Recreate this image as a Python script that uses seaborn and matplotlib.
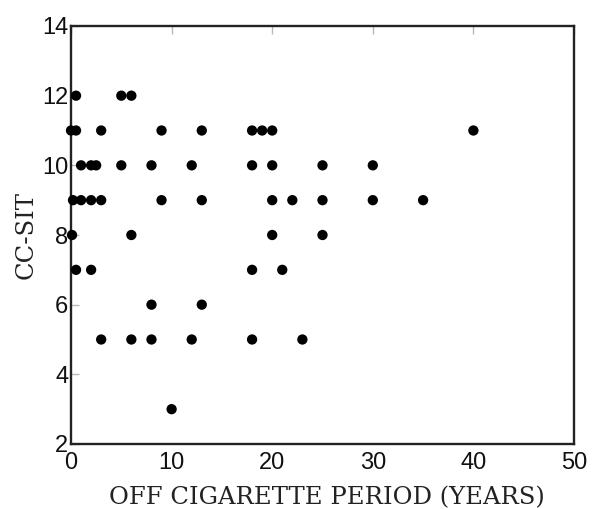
import matplotlib
matplotlib.use("Agg")
import matplotlib.pyplot as plt
import seaborn as sns
import pandas as pd

# Years off cigarettes and the CC-SIT score of each subject
off_years = [
    0.5, 5, 6,
    0.0, 0.5, 3, 9, 13, 18, 19, 20, 40,
    1, 2, 2.5, 5, 8, 12, 18, 20, 25, 30,
    0.2, 1, 2, 3, 9, 13, 20, 22, 25, 30, 35,
    0.1, 6, 20, 25,
    0.5, 2, 18, 21,
    8, 13,
    3, 6, 8, 12, 18, 23,
    10,
]
cc_sit = [
    12, 12, 12,
    11, 11, 11, 11, 11, 11, 11, 11, 11,
    10, 10, 10, 10, 10, 10, 10, 10, 10, 10,
    9, 9, 9, 9, 9, 9, 9, 9, 9, 9, 9,
    8, 8, 8, 8,
    7, 7, 7, 7,
    6, 6,
    5, 5, 5, 5, 5, 5,
    3,
]
x_ticks = [0, 10, 20, 30, 40, 50]
y_ticks = [2, 4, 6, 8, 10, 12, 14]

df = pd.DataFrame({"off": off_years, "score": cc_sit})

sns.set_style("white")
plt.rcParams["font.family"] = ["Liberation Sans", "DejaVu Sans"]

fig = plt.figure(figsize=(5.92, 5.09), dpi=100)
ax = fig.add_axes([71 / 592, 1 - 444 / 509, (574 - 71) / 592, (444 - 26) / 509])

sns.scatterplot(data=df, x="off", y="score", ax=ax, color="black",
                s=55, edgecolor="none", linewidth=0, clip_on=False, zorder=3)

ax.set_xlim(0, 50)
ax.set_ylim(2, 14)
ax.set_xticks(x_ticks)
ax.set_yticks(y_ticks)

for side in ["left", "right", "top", "bottom"]:
    ax.spines[side].set_visible(True)
    ax.spines[side].set_color("#222222")
    ax.spines[side].set_linewidth(1.7)

ax.tick_params(axis="both", direction="in", length=5.5, width=1.0,
               color="#b8b8b8", labelsize=17, labelcolor="#111111")
ax.tick_params(axis="x", top=True, pad=6)
ax.tick_params(axis="y", left=True, right=False, pad=2)

label_font = dict(family="DejaVu Serif", size=17.5, color="#222222")
ax.set_xlabel("OFF CIGARETTE PERIOD (YEARS)", **label_font)
ax.set_ylabel("CC-SIT", **label_font)
ax.xaxis.set_label_coords(0.508, -0.1)
ax.yaxis.set_label_coords(-0.067, 0.5)

fig.savefig("out.png", dpi=100)
